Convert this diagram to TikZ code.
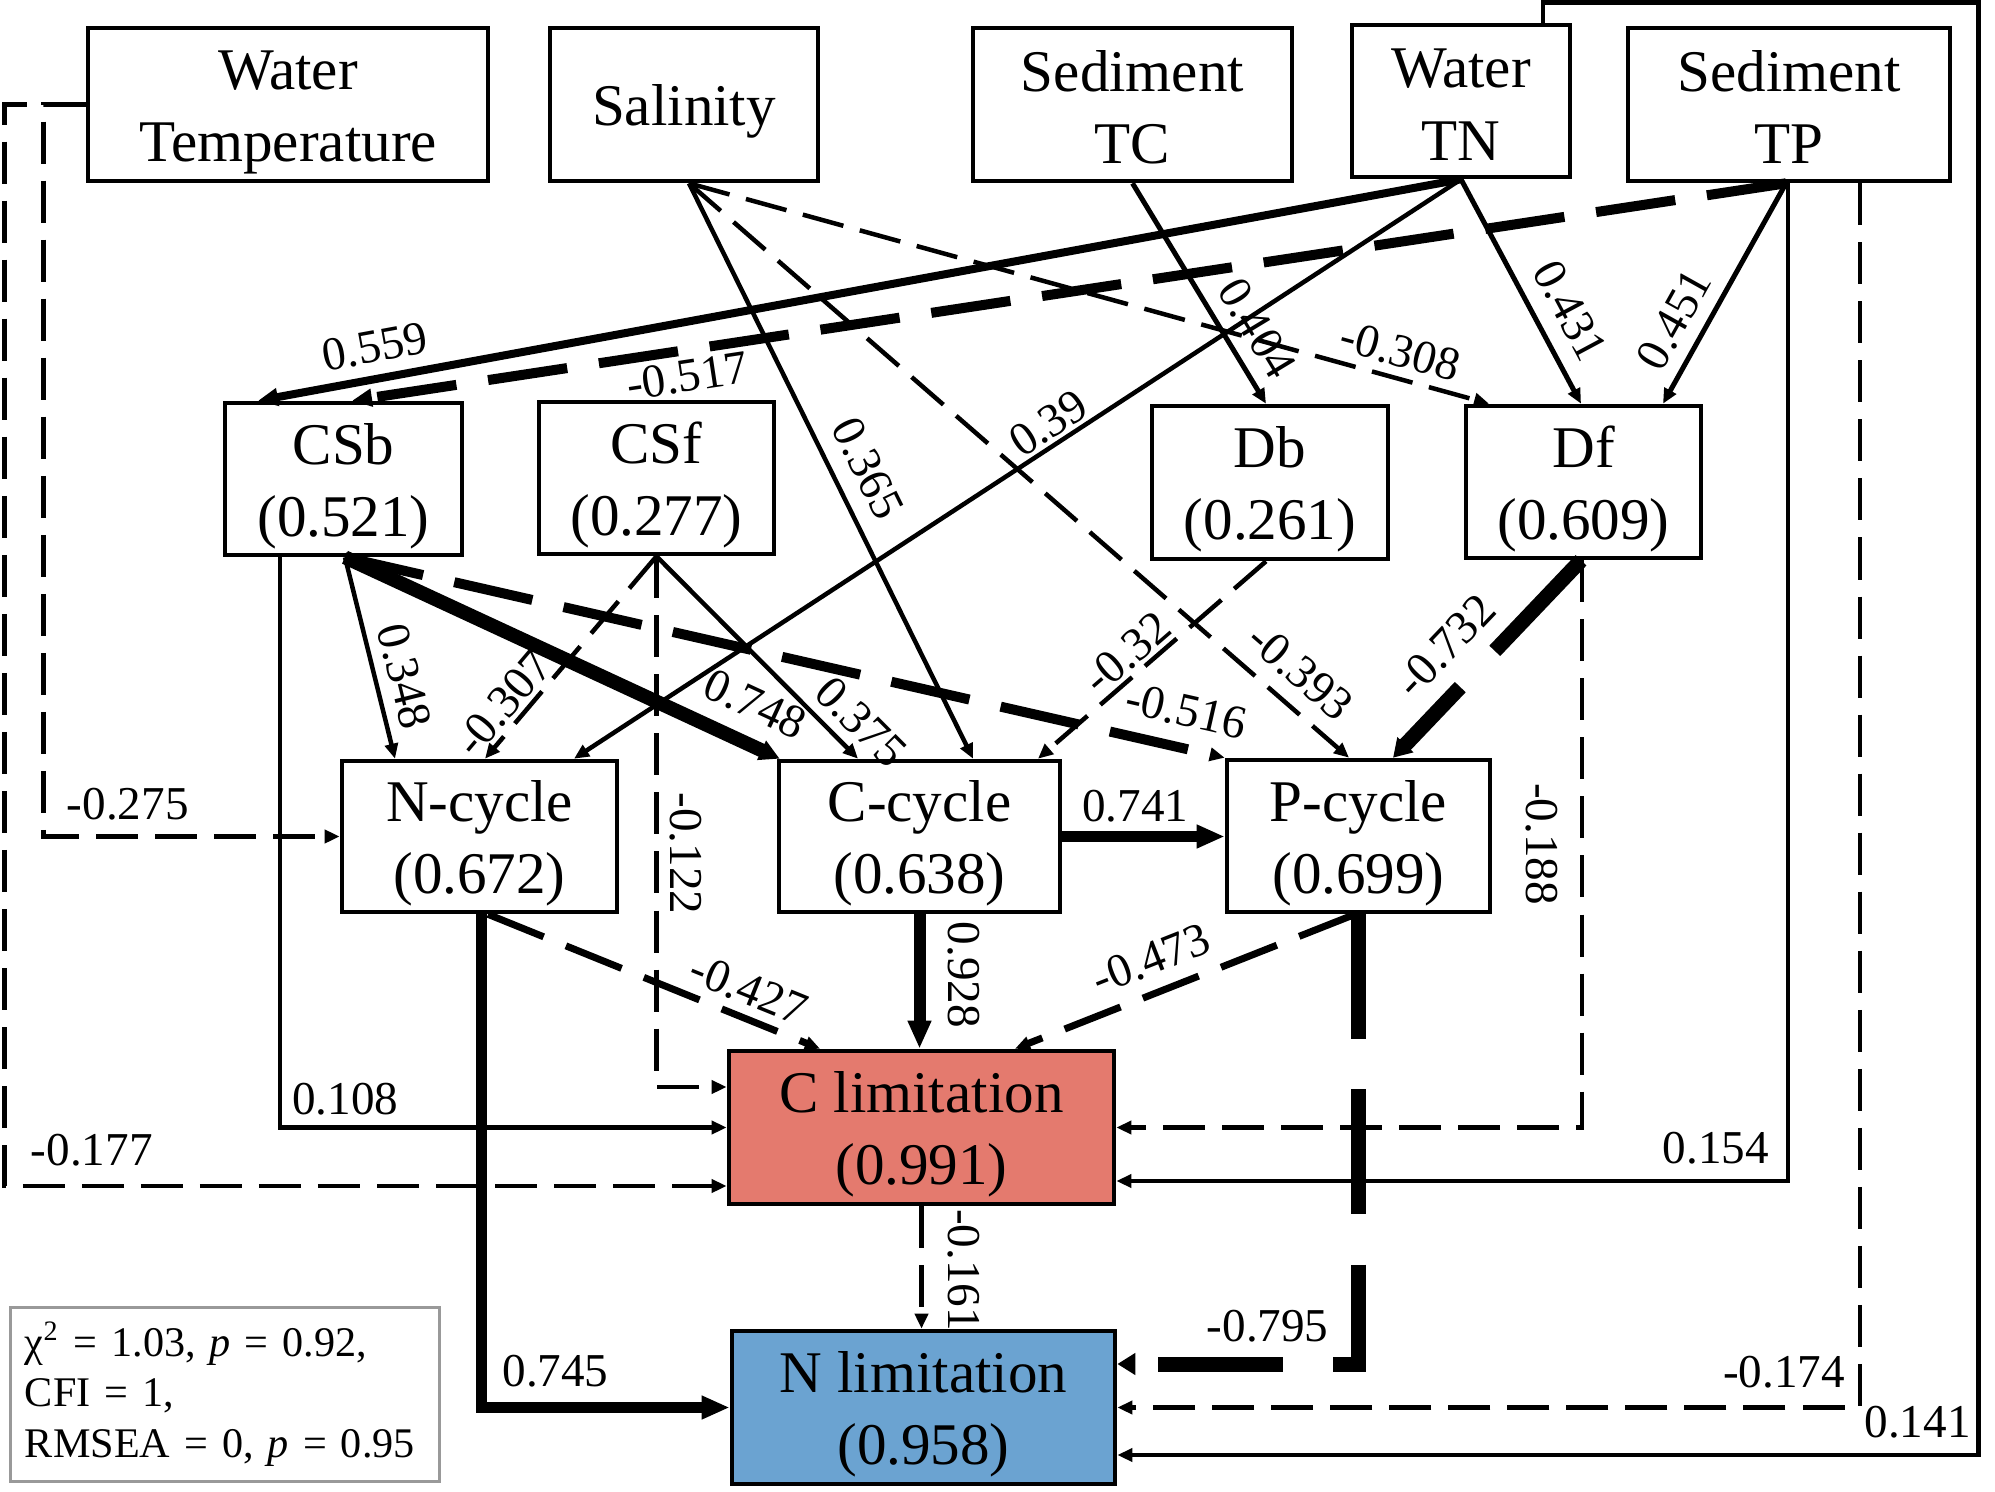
\documentclass[tikz,border=0pt]{standalone}
\usepackage{fontspec}
\setmainfont{Liberation Serif}
\usetikzlibrary{arrows.meta,calc}
\newcommand\boxfont{\fontsize{16.8}{20.5}\selectfont}
\newcommand\lblfont{\fontsize{13.4}{16}\selectfont}
\newcommand\legfont{\fontsize{12}{14.5}\selectfont}
\newcommand\upstrut{\rule{0pt}{0.55cm}}
\newcommand\lowstrut{\rule{0pt}{0.46cm}}
\definecolor{climc}{RGB}{228,122,110}
\definecolor{nlimc}{RGB}{107,163,209}
\begin{document}
\begin{tikzpicture}[x=0.01cm,y=-0.01cm,
  box/.style={draw, line width=0.045cm, inner sep=0pt, align=center, font=\boxfont, fill=white, minimum height=1.53cm},
  lbl/.style={font=\lblfont, inner sep=0.035cm},
  lw4/.style={line width=0.045cm},
  lw5/.style={line width=0.05cm},
  lw7/.style={line width=0.07cm},
  lw8/.style={line width=0.08cm},
  lw10/.style={line width=0.10cm},
  lw11/.style={line width=0.11cm},
  lw12/.style={line width=0.12cm},
  lw14/.style={line width=0.14cm},
  lw15/.style={line width=0.15cm},
  dA/.style={dash pattern=on 0.42cm off 0.17cm},
  dC/.style={dash pattern=on 0.6cm off 0.24cm},
  dD/.style={dash pattern=on 0.8cm off 0.32cm},
  dE/.style={dash pattern=on 1.25cm off 0.5cm},
  tipS/.style={-{Triangle[length=0.15cm,width=0.13cm]}},
  tipB/.style={-{Triangle[length=0.2cm,width=0.17cm]}},
  tipC/.style={-{Triangle[length=0.2cm,width=0.2cm]}},
  tipD/.style={-{Triangle[length=0.28cm,width=0.22cm]}},
  tipE/.style={-{Triangle[length=0.18cm,width=0.21cm]}}
]
\useasboundingbox (0,0) rectangle (1995,1492);

% nodes
\node[box, minimum width=4cm] (WT) at (288,104.5) {\upstrut Water\\Temperature};
\node[box, minimum width=2.68cm] (Sal) at (684,104.5) {\upstrut Salinity};
\node[box, minimum width=3.19cm] (STC) at (1132.5,104.5) {\lowstrut Sediment\\TC};
\node[box, minimum width=2.18cm, minimum height=1.52cm] (WTN) at (1461,101) {\lowstrut Water\\TN};
\node[box, minimum width=3.22cm] (STP) at (1789,104.5) {\lowstrut Sediment\\TP};
\node[box, minimum width=2.37cm, minimum height=1.52cm] (CSb) at (343.5,479) {\upstrut CSb\\(0.521)};
\node[box, minimum width=2.35cm, minimum height=1.52cm] (CSf) at (656.5,478) {\upstrut CSf\\(0.277)};
\node[box, minimum width=2.36cm] (Db) at (1270,482.5) {\upstrut Db\\(0.261)};
\node[box, minimum width=2.35cm, minimum height=1.52cm] (Df) at (1583.5,482) {\upstrut Df\\(0.609)};
\node[box, minimum width=2.75cm, minimum height=1.51cm] (Ncyc) at (479.5,836.5) {\upstrut N-cycle\\(0.672)};
\node[box, minimum width=2.81cm, minimum height=1.51cm] (Ccyc) at (919.5,836.5) {\upstrut C-cycle\\(0.638)};
\node[box, minimum width=2.63cm, minimum height=1.52cm] (Pcyc) at (1358.5,836) {\upstrut P-cycle\\(0.699)};
\node[box, fill=climc, minimum width=3.85cm] (Clim) at (921.5,1127.5) {\upstrut C limitation\\(0.991)};
\node[box, fill=nlimc, minimum width=3.83cm] (Nlim) at (923.5,1407.5) {\upstrut N limitation\\(0.958)};
\node[draw=black!40, line width=0.03cm, text width=4.0cm, inner xsep=0.14cm, minimum height=1.73cm, align=left, font=\legfont] (leg) at (225,1394.5)
  {χ\textsuperscript{2} = 1.03, \textit{p} = 0.92,\\CFI = 1,\\RMSEA = 0, \textit{p} = 0.95};

% straight connectors
\draw[lw8, tipB] (WTN.south) -- node[lbl,pos=0.898,sloped,above=0.085cm]{0.559} ($(CSb.north)+(-85.5,0)$);
\draw[lw10, dD, tipB] ($(STP.south)+(-3,0)$) -- node[lbl,pos=0.769,sloped,below=0.015cm]{-0.517} ($(CSb.north)+(8.5,0)$);
\draw[lw4, tipS] (WTN.south) -- node[lbl,pos=0.452,sloped,above=0cm]{0.39} ($(Ncyc.north)+(94.5,0)$);
\draw[lw5, tipS] (WTN.south) -- node[lbl,pos=0.658,sloped,above=0.125cm]{0.431} ($(Df.north)+(-2.5,0)$);
\draw[lw5, tipS] ($(STP.south)+(-3,0)$) -- node[lbl,pos=0.687,sloped,above=0.095cm]{0.451} ($(Df.north)+(79.5,0)$);
\draw[lw5, tipS] (STC.south) -- node[lbl,pos=0.731,sloped,above=0.095cm]{0.404} ($(Db.north)+(-4,0)$);
\draw[lw4, dA, tipS] ($(Sal.south)+(5,0)$) -- node[lbl,pos=0.88,sloped,above=0.055cm]{-0.308} ($(Df.north)+(-94.5,0)$);
\draw[lw4, tipS] ($(Sal.south)+(5,0)$) -- node[lbl,pos=0.522,sloped,above=0.125cm]{0.365} ($(Ccyc.north)+(53.5,0)$);
\draw[lw4, dA, tipS] ($(Sal.south)+(5,0)$) -- node[lbl,pos=0.894,sloped,above=0.115cm]{-0.393} ($(Pcyc.north)+(-9.5,0)$);
\draw[lw4, dA, tipS] ($(Db.south)+(-4,0)$) -- node[lbl,pos=0.548,sloped,above=0cm]{-0.32} ($(Ccyc.north)+(118.5,0)$);
\draw[lw15, dE, tipE] ($(Df.south)+(-2.5,0)$) -- node[lbl,pos=0.57,sloped,above=0.125cm]{-0.732} ($(Pcyc.north)+(34.5,0)$);
\draw[lw4, tipS] ($(CSb.south)+(1.5,0)$) -- node[lbl,pos=0.624,sloped,above=0.075cm]{0.348} ($(Ncyc.north)+(-84.5,0)$);
\draw[lw4, dA, tipS] (CSf.south) -- node[lbl,pos=0.797,sloped,above=0cm]{-0.307} ($(Ncyc.north)+(5.5,0)$);
\draw[lw4, tipS] (CSf.south) -- node[lbl,pos=0.916,sloped,above=0.065cm]{0.375} ($(Ccyc.north)+(-61.5,0)$);
\draw[lw14, tipC] ($(CSb.south)+(1.5,0)$) -- node[lbl,pos=0.906,sloped,above=0.13cm]{0.748} ($(Ccyc.north west)+(3,0)$);
\draw[lw10, dD, tipS] ($(CSb.south)+(1.5,0)$) -- node[lbl,pos=0.947,sloped,above=0.125cm]{-0.516} (Pcyc.north west);
\draw[lw7, dC, tipS] ($(Ncyc.south)+(8.5,0)$) -- node[lbl,pos=0.753,sloped,above=0.055cm]{-0.427} ($(Clim.north)+(-101.5,0)$);
\draw[lw7, dC, tipS] ($(Pcyc.south)+(-3.5,0)$) -- node[lbl,pos=0.564,sloped,above=0.105cm]{-0.473} ($(Clim.north)+(93.5,0)$);
\draw[lw11, tipD] (Ccyc.east) -- node[lbl,pos=0.45,above=0.055cm]{0.741} (Ccyc.east -| Pcyc.west);
\draw[lw12, tipD] (Ccyc.south) -- node[lbl,pos=0.45,sloped,above=0.185cm]{0.928} (Ccyc.south |- Clim.north);
\draw[lw4, dA, tipS] (Clim.south) -- node[lbl,pos=0.52,sloped,above=0.205cm]{-0.161} (Clim.south |- Nlim.north);

% elbow connectors
\draw[lw4, dA, tipS] (WT.west) -| ($(Ncyc.west)+(-296,0)$) -- node[lbl,pos=0,anchor=south west,xshift=0.175cm,yshift=0.11cm]{-0.275} (Ncyc.west);
\draw[lw4, dA, tipS] (WT.west) -| ($(Clim.west)+(-722,58.5)$) -- node[lbl,pos=0,anchor=south west,xshift=0.205cm,yshift=0.145cm]{-0.177} ($(Clim.west)+(0,58.5)$);
\draw[lw4, tipS] ($(CSb.south)+(-63.5,0)$) |- node[lbl,pos=0.5,anchor=south west,xshift=0.065cm,yshift=0.07cm]{0.108} (Clim.west);
\draw[lw4, dA, tipS] (CSf.south) |- node[lbl,pos=0.28,sloped,above=0.075cm]{-0.122} ($(Clim.west)+(0,-40.5)$);
\draw[lw4, dA, tipS] ($(Df.south)+(-1.5,0)$) |- node[lbl,pos=0.25,sloped,below=0.185cm]{-0.188} (Clim.east);
\draw[lw4, tipS] ($(STP.south)+(-1,0)$) |- node[lbl,pos=0.5,anchor=south east,xshift=-0.135cm,yshift=0.115cm]{0.154} ($(Clim.east)+(0,53.5)$);
\draw[lw4, dA, tipS] ($(STP.south)+(71,0)$) |- node[lbl,pos=0.5,anchor=south east,xshift=-0.095cm,yshift=0.135cm]{-0.174} (Nlim.east);
\draw[lw4, tipS] ($(WTN.north)+(82,0)$) -- ++(0,-20) -| ($(Nlim.east)+(861,47.5)$) -- node[lbl,pos=0,anchor=south east,xshift=-0.02cm,yshift=0.11cm]{0.141} ($(Nlim.east)+(0,47.5)$);
\draw[lw11, tipD] ($(Ncyc.south)+(1.5,0)$) |- node[lbl,pos=0.5,anchor=south west,xshift=0.125cm,yshift=0.11cm]{0.745} (Nlim.west);
\draw[lw15, dE, tipE] (Pcyc.south) |- node[lbl,pos=0.5,anchor=south east,xshift=-0.19cm,yshift=0.105cm]{-0.795} ($(Nlim.east)+(0,-43.5)$);
\end{tikzpicture}
\end{document}
